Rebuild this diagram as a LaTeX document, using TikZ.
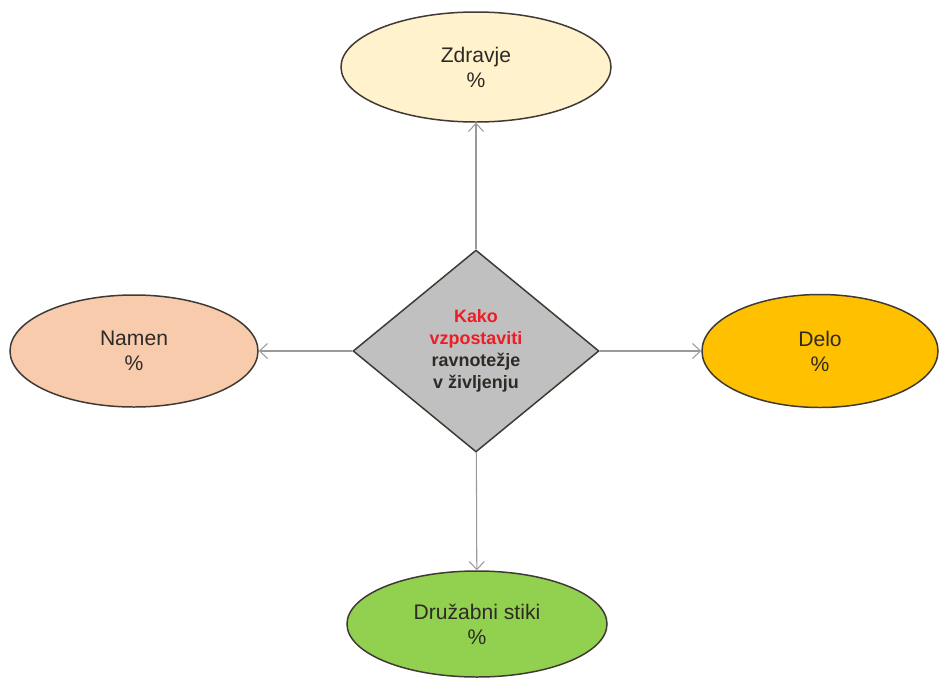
\documentclass[tikz,border=0pt]{standalone}
\usepackage{fontspec}
\setmainfont{Liberation Sans}
\usetikzlibrary{shapes.geometric,arrows.meta}

\definecolor{zdravjebarva}{HTML}{FFF2CC}
\definecolor{namenbarva}{HTML}{F8CBAD}
\definecolor{delobarva}{HTML}{FFC000}
\definecolor{stikibarva}{HTML}{92D050}
\definecolor{sredina}{HTML}{C0C0C0}
\definecolor{obroba}{HTML}{3F3A33}
\definecolor{crta}{HTML}{9A9A9A}
\definecolor{besedilo}{HTML}{2E2A26}
\definecolor{rdeca}{HTML}{EE1C25}

\begin{document}
\begin{tikzpicture}[
        krog/.style={ellipse, draw=obroba, line width=0.85pt, inner sep=0pt,
            align=center, text=besedilo, font=\fontsize{12}{14.2}\selectfont},
        puscica/.style={draw=crta, line width=0.6pt,
            -{Straight Barb[length=1.6mm,width=3mm]}}
    ]
    \useasboundingbox (0,0) rectangle (18.78,-13.56);

    \node[diamond, draw=obroba, line width=0.85pt, fill=sredina, inner sep=0pt,
        minimum width=4.92cm, minimum height=4.04cm, align=center, text=besedilo,
        font=\bfseries\fontsize{10.2}{12.6}\selectfont] (kako) at (9.52,-7.02)
        {\textcolor{rdeca}{Kako}\\\textcolor{rdeca}{vzpostaviti}\\ravnotežje\\v življenju};

    \node[krog, fill=zdravjebarva, minimum width=5.4cm, minimum height=2.2cm]
        (zdravje) at (9.52,-1.34) {Zdravje\\\%};
    \node[krog, fill=namenbarva, minimum width=4.96cm, minimum height=2.24cm]
        (namen) at (2.68,-7.02) {Namen\\\%};
    \node[krog, fill=delobarva, minimum width=4.72cm, minimum height=2.26cm]
        (delo) at (16.4,-7.02) {Delo\\\%};
    \node[krog, fill=stikibarva, minimum width=5.2cm, minimum height=2.12cm]
        (stiki) at (9.54,-12.48) {Družabni stiki\\\%};

    \foreach \x in {zdravje, namen, delo, stiki} {
        \draw[puscica] (kako) -- (\x);
    }
\end{tikzpicture}
\end{document}
